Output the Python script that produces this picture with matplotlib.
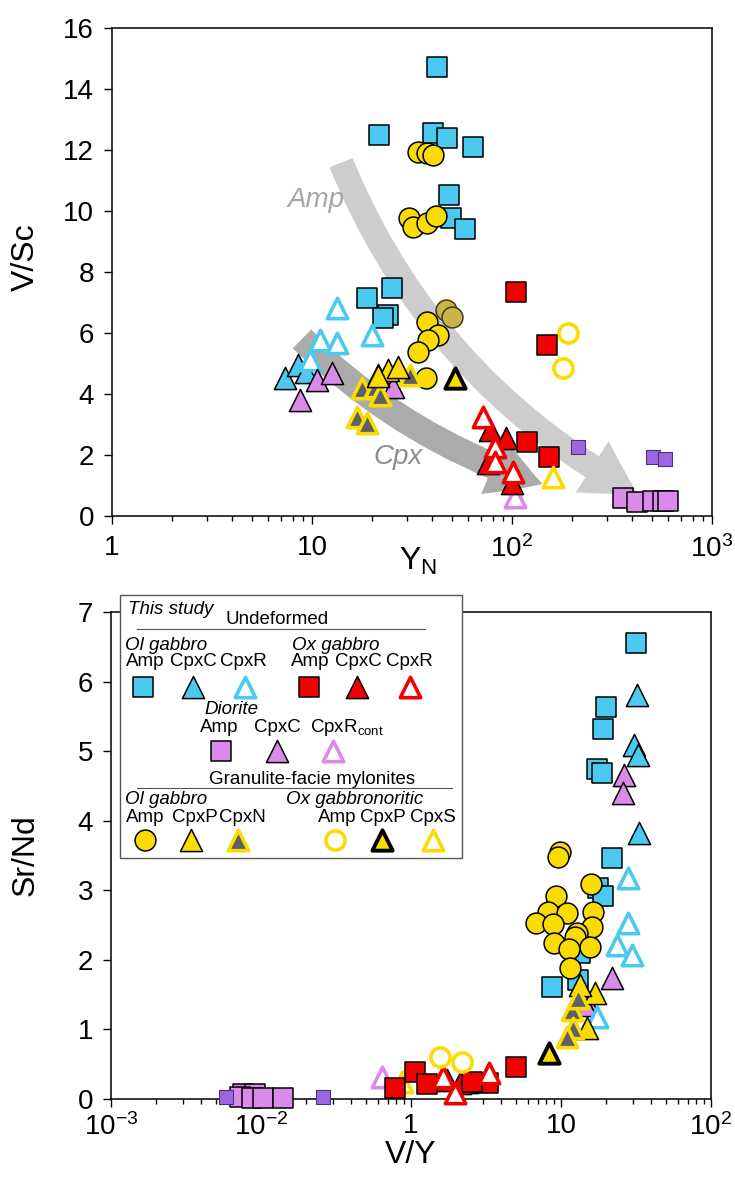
import matplotlib
matplotlib.use('Agg')
import matplotlib.pyplot as plt
from matplotlib.patches import FancyArrowPatch, Rectangle
from matplotlib.ticker import FixedLocator, FixedFormatter, LogLocator, NullFormatter

plt.rcParams['font.family'] = ['Liberation Sans', 'DejaVu Sans']
plt.rcParams['mathtext.fontset'] = 'custom'
plt.rcParams['mathtext.rm'] = 'Liberation Sans'
plt.rcParams['mathtext.it'] = 'Liberation Sans:italic'

# ================= TOP PANEL DATA  (Y_N , V/Sc) =================
t_olamp_x = [42.2, 21.6, 40.3, 47.3, 63.8, 48.4, 49.5, 58.2, 18.8, 25.1, 24.0, 22.6]
t_olamp_y = [14.72, 12.49, 12.56, 12.39, 12.10, 10.52, 9.77, 9.41, 7.15, 7.48, 6.59, 6.49]
t_olcpxc_x = [7.33, 8.51, 9.33]
t_olcpxc_y = [4.52, 4.95, 4.72]
t_olcpxr_x = [13.3, 11.0, 13.3, 9.77, 19.95]
t_olcpxr_y = [6.82, 5.77, 5.67, 5.11, 5.93]
t_oxamp_x = [104.7, 149.6, 118.9, 153.1]
t_oxamp_y = [7.34, 5.61, 2.43, 1.93]
t_oxcpxc_x = [77.6, 93.3, 75.9, 100.0]
t_oxcpxc_y = [2.82, 2.56, 1.74, 1.08]
t_oxcpxr_x = [71.6, 82.2, 82.2, 101.2]
t_oxcpxr_y = [3.25, 2.26, 1.77, 1.44]
t_dioamp_x = [358.9, 421.7, 507.0, 568.9, 602.6]
t_dioamp_y = [0.59, 0.46, 0.49, 0.49, 0.49]
t_diocpxc_x = [10.6, 12.6, 8.71, 25.4, 21.4]
t_diocpxc_y = [4.46, 4.69, 3.80, 4.23, 4.62]
t_diocpxr_x = [103.5]
t_diocpxr_y = [0.62]
t_lit_x = [213.8, 507.0, 582.0]
t_lit_y = [2.26, 1.93, 1.87]
t_mamp_x = [33.9, 37.6, 40.3, 30.5, 32.0, 37.6, 41.7, 37.6, 42.7, 38.0, 33.9, 37.2]
t_mamp_y = [11.93, 11.90, 11.84, 9.77, 9.48, 9.61, 9.84, 6.36, 5.93, 5.77, 5.38, 4.52]
t_mamp2_x = [46.8, 50.1]
t_mamp2_y = [6.75, 6.52]
t_mcpxp_x = [24.0, 26.9, 21.4]
t_mcpxp_y = [4.79, 4.89, 4.59]
t_mcpxn_x = [17.8, 20.7, 21.9, 16.8, 18.8, 30.9]
t_mcpxn_y = [4.20, 4.23, 3.97, 3.25, 3.05, 4.62]
t_oxmamp_x = [190.5, 179.9]
t_oxmamp_y = [6.00, 4.85]
t_oxmcpxp_x = [51.9]
t_oxmcpxp_y = [4.52]
t_oxmcpxs_x = [160.3]
t_oxmcpxs_y = [1.28]

# trend arrows (start/end in Y_N, V/Sc)
amp_trend = [(13.8, 11.67), (437.0, 0.69)]
cpx_trend = [(8.71, 5.87), (146.5, 1.02)]

# ================= BOTTOM PANEL DATA  (V/Y , Sr/Nd) =================
b_olamp_x = [31.6, 19.95, 19.05, 17.4, 18.8, 21.9, 17.7, 19.05, 8.71, 13.0, 13.4]
b_olamp_y = [6.55, 5.63, 5.32, 4.74, 4.68, 3.46, 3.04, 2.92, 1.61, 1.71, 2.10]
b_olcpxc_x = [32.1, 30.7, 32.6, 33.1]
b_olcpxc_y = [5.80, 5.09, 4.94, 3.82]
b_olcpxr_x = [28.0, 28.0, 23.6, 29.7, 17.4]
b_olcpxr_y = [3.18, 2.53, 2.21, 2.07, 1.18]
b_oxamp_x = [5.01, 1.06, 1.28, 3.26, 2.55, 0.78]
b_oxamp_y = [0.46, 0.39, 0.22, 0.23, 0.24, 0.16]
b_oxcpxc_x = [2.35, 2.12, 1.75]
b_oxcpxc_y = [0.24, 0.23, 0.28]
b_oxcpxr_x = [1.96, 3.31, 1.63]
b_oxcpxr_y = [0.09, 0.37, 0.32]
b_dioamp_x = [0.0759, 0.0912, 0.0724, 0.0871, 0.1031, 0.140]
b_dioamp_y = [0.07, 0.07, 0.03, 0.01, 0.01, 0.01]
b_diocpxc_x = [26.3, 25.9, 21.9, 14.9, 14.5]
b_diocpxc_y = [4.66, 4.40, 1.74, 1.39, 1.35]
b_diocpxr_x = [0.64]
b_diocpxr_y = [0.32]
b_lit_x = [0.0585, 0.259]
b_lit_y = [0.03, 0.03]
b_mamp_x = [9.85, 9.55, 15.85, 9.26, 8.19, 10.96, 16.3, 6.81, 8.85, 16.1, 12.8, 8.98, 12.4, 15.6, 11.3, 11.5]
b_mamp_y = [3.55, 3.48, 3.09, 2.92, 2.69, 2.67, 2.69, 2.53, 2.51, 2.47, 2.39, 2.24, 2.33, 2.18, 2.16, 1.88]
b_mcpxp_x = [16.9, 14.9, 13.4]
b_mcpxp_y = [1.52, 1.02, 1.64]
b_mcpxn_x = [11.8, 12.0, 11.0, 13.0]
b_mcpxn_y = [1.28, 1.02, 0.89, 1.45]
b_oxmamp_x = [1.56, 2.19]
b_oxmamp_y = [0.60, 0.53]
b_oxmcpxp_x = [8.32]
b_oxmcpxp_y = [0.66]
b_oxmcpxs_x = [0.87]
b_oxmcpxs_y = [0.24]

top_xticks = [1, 10, 100, 1000]
top_xticklabels = ['1', '10', r'10$^{2}$', r'10$^{3}$']
top_yticks = [0, 2, 4, 6, 8, 10, 12, 14, 16]
bot_xticks = [0.01, 0.1, 1, 10, 100]
bot_xticklabels = [r'10$^{-3}$', r'10$^{-2}$', '1', '10', r'10$^{2}$']
bot_yticks = [0, 1, 2, 3, 4, 5, 6, 7]

# ================= STYLES =================
CYAN = '#4CC9EE'
RED = '#F20000'
VIOLET = '#DA8BEA'
YELLOW = '#FADC00'
GRAYF = '#5E6068'
PURPLE = '#9B66E0'
OLIVE = '#C8B548'

SQ = dict(marker='s', s=210, edgecolors='black', linewidths=1.1)
TRI = dict(marker='^', s=255, edgecolors='black', linewidths=1.1)
OTRI = dict(marker='^', s=215, facecolors='white', linewidths=2.6)
CIR = dict(marker='o', s=225, edgecolors='black', linewidths=1.1)
OCIR = dict(marker='o', s=190, facecolors='white', edgecolors=YELLOW, linewidths=2.6)

styles = {
    'olamp': dict(SQ, facecolors=CYAN),
    'olcpxc': dict(TRI, facecolors=CYAN),
    'olcpxr': dict(OTRI, edgecolors=CYAN),
    'oxamp': dict(SQ, facecolors=RED),
    'oxcpxc': dict(TRI, facecolors=RED),
    'oxcpxr': dict(OTRI, edgecolors=RED),
    'dioamp': dict(SQ, facecolors=VIOLET),
    'diocpxc': dict(TRI, facecolors=VIOLET),
    'diocpxr': dict(OTRI, edgecolors=VIOLET),
    'lit': dict(marker='s', s=95, facecolors=PURPLE, edgecolors='#4B3080', linewidths=0.8),
    'mamp': dict(CIR, facecolors=YELLOW),
    'mamp2': dict(CIR, facecolors=OLIVE, edgecolors='#40381A'),
    'mcpxp': dict(TRI, facecolors=YELLOW),
    'mcpxn': dict(marker='^', s=215, facecolors=GRAYF, edgecolors=YELLOW, linewidths=2.6),
    'oxmamp': OCIR,
    'oxmcpxp': dict(marker='^', s=215, facecolors=YELLOW, edgecolors='black', linewidths=2.8),
    'oxmcpxs': dict(OTRI, edgecolors=YELLOW),
}

W, H = 735, 1178
fig = plt.figure(figsize=(W / 100, H / 100), dpi=100)

def px_axes(l, t, r, b):
    return fig.add_axes([l / W, 1 - b / H, (r - l) / W, (b - t) / H])

def style_axes(ax, xpad):
    for sp in ax.spines.values():
        sp.set_linewidth(1.1)
    ax.tick_params(which='major', direction='out', length=6, width=1.0, labelsize=20)
    ax.tick_params(axis='y', which='major', pad=7)
    ax.tick_params(axis='x', which='major', pad=xpad)
    ax.tick_params(which='minor', direction='out', length=3.8, width=1.0)
    ax.tick_params(top=False, right=False, which='both')

# ---------------- top ----------------
ax1 = px_axes(112, 28, 712, 516)
ax1.set_xscale('log')
ax1.set_xlim(1, 1000)
ax1.set_ylim(0, 16)
ax1.xaxis.set_major_locator(FixedLocator(top_xticks))
ax1.xaxis.set_major_formatter(FixedFormatter(top_xticklabels))
ax1.xaxis.set_minor_locator(LogLocator(base=10, subs=range(2, 10), numticks=20))
ax1.xaxis.set_minor_formatter(NullFormatter())
ax1.set_yticks(top_yticks)
style_axes(ax1, 8)

a1 = FancyArrowPatch(amp_trend[0], amp_trend[1], connectionstyle='arc3,rad=0.18',
                     arrowstyle='simple,tail_width=18,head_width=44,head_length=38',
                     mutation_scale=1, color='#CDCDCD', lw=0, zorder=1)
ax1.add_patch(a1)
a2 = FancyArrowPatch(cpx_trend[0], cpx_trend[1], connectionstyle='arc3,rad=0.12',
                     arrowstyle='simple,tail_width=19,head_width=44,head_length=38',
                     mutation_scale=1, color='#ABABAB', lw=0, zorder=1)
ax1.add_patch(a2)
ax1.text(10.4, 10.36, 'Amp', style='italic', color='#A6A6A6', fontsize=20,
         ha='center', va='center', zorder=2)
ax1.text(26.9, 1.95, 'Cpx', style='italic', color='#8E8E8E', fontsize=20,
         ha='center', va='center', zorder=2)

top_series = [
    ('olamp', t_olamp_x, t_olamp_y), ('mamp', t_mamp_x, t_mamp_y),
    ('mamp2', t_mamp2_x, t_mamp2_y),
    ('olcpxc', t_olcpxc_x, t_olcpxc_y), ('olcpxr', t_olcpxr_x, t_olcpxr_y),
    ('diocpxc', t_diocpxc_x, t_diocpxc_y), ('mcpxn', t_mcpxn_x, t_mcpxn_y),
    ('mcpxp', t_mcpxp_x, t_mcpxp_y), ('oxmcpxp', t_oxmcpxp_x, t_oxmcpxp_y),
    ('oxmamp', t_oxmamp_x, t_oxmamp_y), ('oxamp', t_oxamp_x, t_oxamp_y),
    ('diocpxr', t_diocpxr_x, t_diocpxr_y),
    ('oxcpxc', t_oxcpxc_x, t_oxcpxc_y), ('oxcpxr', t_oxcpxr_x, t_oxcpxr_y),
    ('oxmcpxs', t_oxmcpxs_x, t_oxmcpxs_y), ('lit', t_lit_x, t_lit_y),
    ('dioamp', t_dioamp_x, t_dioamp_y),
]
for i, (k, xs, ys) in enumerate(top_series):
    ax1.scatter(xs, ys, zorder=3 + i * 0.01, clip_on=False, **styles[k])

ax1.set_ylabel('V/Sc', fontsize=23)
ax1.yaxis.set_label_coords(-0.118, 0.53)
ax1.set_xlabel(r'Y$_\mathregular{N}$', fontsize=23)
ax1.xaxis.set_label_coords(0.51, -0.062)

# ---------------- bottom ----------------
ax2 = px_axes(111, 612, 711, 1099)
ax2.set_xscale('log')
ax2.set_xlim(0.01, 100)
ax2.set_ylim(0, 7)
ax2.xaxis.set_major_locator(FixedLocator(bot_xticks))
ax2.xaxis.set_major_formatter(FixedFormatter(bot_xticklabels))
ax2.xaxis.set_minor_locator(LogLocator(base=10, subs=range(2, 10), numticks=20))
ax2.xaxis.set_minor_formatter(NullFormatter())
ax2.set_yticks(bot_yticks)
style_axes(ax2, 4)

bot_series = [
    ('dioamp', b_dioamp_x, b_dioamp_y), ('lit', b_lit_x, b_lit_y),
    ('diocpxr', b_diocpxr_x, b_diocpxr_y), ('oxmcpxs', b_oxmcpxs_x, b_oxmcpxs_y),
    ('oxcpxc', b_oxcpxc_x, b_oxcpxc_y), ('oxamp', b_oxamp_x, b_oxamp_y),
    ('oxcpxr', b_oxcpxr_x, b_oxcpxr_y), ('oxmamp', b_oxmamp_x, b_oxmamp_y),
    ('olamp', b_olamp_x, b_olamp_y), ('olcpxc', b_olcpxc_x, b_olcpxc_y),
    ('diocpxc', b_diocpxc_x, b_diocpxc_y), ('olcpxr', b_olcpxr_x, b_olcpxr_y),
    ('mcpxp', b_mcpxp_x, b_mcpxp_y), ('mcpxn', b_mcpxn_x, b_mcpxn_y),
    ('oxmcpxp', b_oxmcpxp_x, b_oxmcpxp_y), ('mamp', b_mamp_x, b_mamp_y),
]
for i, (k, xs, ys) in enumerate(bot_series):
    ax2.scatter(xs, ys, zorder=3 + i * 0.01, clip_on=False, **styles[k])

ax2.set_ylabel('Sr/Nd', fontsize=23)
ax2.yaxis.set_label_coords(-0.118, 0.5)
ax2.set_xlabel('V/Y', fontsize=23)
ax2.xaxis.set_label_coords(0.5, -0.085)

# ---------------- legend (pixel overlay) ----------------
lax = fig.add_axes([0, 0, 1, 1], zorder=10)
lax.set_xlim(0, W)
lax.set_ylim(H, 0)
lax.axis('off')
lax.patch.set_alpha(0)
lax.add_patch(Rectangle((120, 595), 342, 263, facecolor='white', edgecolor='#555555', lw=1.0))
FS = 13.5
lax.text(128, 609, 'This study', style='italic', fontsize=FS, va='center', ha='left')
lax.text(277, 620, 'Undeformed', fontsize=FS, va='center', ha='center')
lax.plot([137, 425], [629, 629], color='#555555', lw=0.8)
lax.text(125, 645, 'Ol gabbro', style='italic', fontsize=FS, va='center', ha='left')
lax.text(292, 645, 'Ox gabbro', style='italic', fontsize=FS, va='center', ha='left')
for x, t in [(145, 'Amp'), (193, 'CpxC'), (243, 'CpxR'), (310, 'Amp'), (358, 'CpxC'), (409, 'CpxR')]:
    lax.text(x, 662, t, fontsize=FS, va='center', ha='center')
for x, k in [(143, 'olamp'), (193, 'olcpxc'), (245, 'olcpxr'), (309, 'oxamp'), (357, 'oxcpxc'), (410, 'oxcpxr')]:
    lax.scatter([x], [687], **styles[k])
lax.text(204, 710, 'Diorite', style='italic', fontsize=FS, va='center', ha='left')
lax.text(219, 727, 'Amp', fontsize=FS, va='center', ha='center')
lax.text(277, 727, 'CpxC', fontsize=FS, va='center', ha='center')
lax.text(310, 727, r'CpxR$_\mathregular{cont}$', fontsize=FS, va='center', ha='left')
for x, k in [(221, 'dioamp'), (277, 'diocpxc'), (333, 'diocpxr')]:
    lax.scatter([x], [751], **styles[k])
lax.text(312, 779, 'Granulite-facie mylonites', fontsize=FS, va='center', ha='center')
lax.plot([137, 452], [788, 788], color='#555555', lw=0.8)
lax.text(125, 800, 'Ol gabbro', style='italic', fontsize=FS, va='center', ha='left')
lax.text(286, 800, 'Ox gabbronoritic', style='italic', fontsize=FS, va='center', ha='left')
for x, t in [(145, 'Amp'), (195, 'CpxP'), (242, 'CpxN'), (337, 'Amp'), (383, 'CpxP'), (433, 'CpxS')]:
    lax.text(x, 817, t, fontsize=FS, va='center', ha='center')
for x, k in [(145, 'mamp'), (191, 'mcpxp'), (238, 'mcpxn'), (335, 'oxmamp'), (382, 'oxmcpxp'), (433, 'oxmcpxs')]:
    lax.scatter([x], [840], **styles[k])

fig.savefig('out.png', dpi=100)
